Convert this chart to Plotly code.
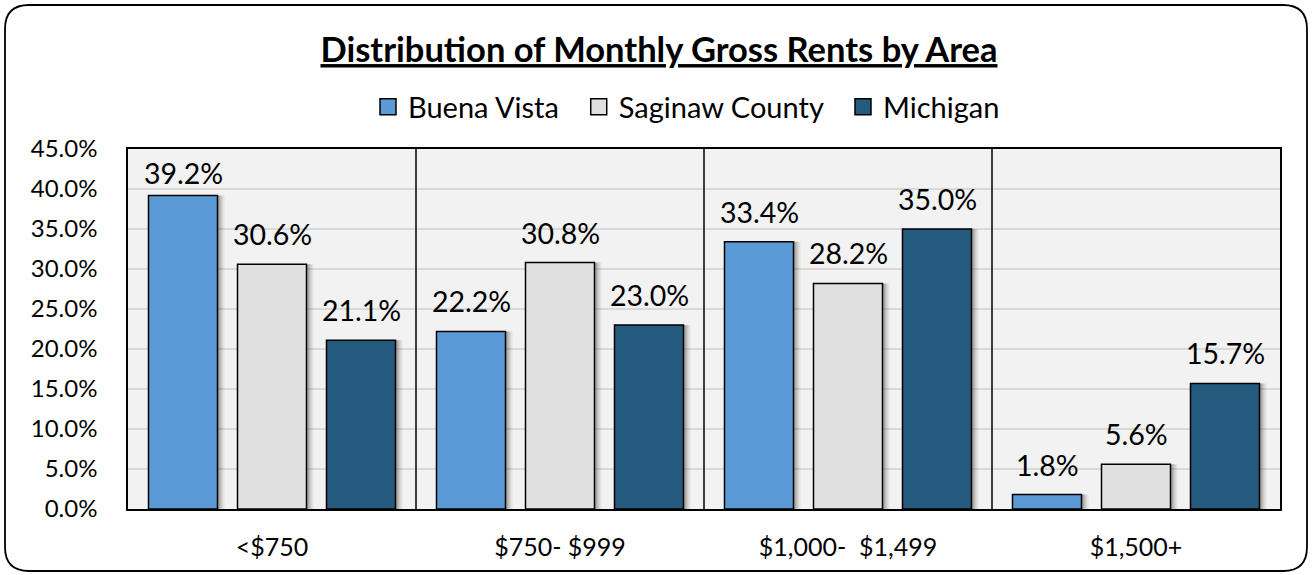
import plotly.graph_objects as go

categories = ["<$750", "$750- $999", "$1,000-  $1,499", "$1,500+"]
series_names = ["Buena Vista", "Saginaw County", "Michigan"]
buena_vista = [39.2, 22.2, 33.4, 1.8]
saginaw_county = [30.6, 30.8, 28.2, 5.6]
michigan = [21.1, 23.0, 35.0, 15.7]
y_ticks = [0, 5, 10, 15, 20, 25, 30, 35, 40, 45]

colors = ["#5B9BD5", "#E0E0E0", "#255A7F"]
values = [buena_vista, saginaw_county, michigan]

W, H = 1313, 575
L, R, T, B = 128, 1280, 149, 509
pw, ph = R - L, B - T
cat_px = pw / len(categories)
slot = 89 / cat_px
bw = 69 / cat_px
first = -0.5 + 20.5 / cat_px
font = "Lato, 'Open Sans', sans-serif"
ymax = 45

fig = go.Figure()
x_idx = list(range(len(categories)))

# soft shadows
for i, vals in enumerate(values):
    for dx, op in [(7, 0.06), (5, 0.10), (3, 0.16)]:
        fig.add_trace(go.Bar(
            x=x_idx, y=vals, offset=first + i * slot + dx / cat_px, width=bw,
            marker=dict(color=f"rgba(0,0,0,{op})", line=dict(width=0)),
            showlegend=False, hoverinfo="skip"))

annotations = []
for i, (name, vals) in enumerate(zip(series_names, values)):
    fig.add_trace(go.Bar(
        x=x_idx, y=vals, name=name, offset=first + i * slot, width=bw,
        marker=dict(color=colors[i], line=dict(color="#000000", width=1.5)),
        showlegend=False))
    for xi, v in zip(x_idx, vals):
        bar_top_px = B - v / ymax * ph
        shift = min(30, bar_top_px - (T + 24))
        annotations.append(dict(
            x=xi + first + i * slot + bw / 2, y=v, xref="x", yref="y",
            text=f"{v:.1f}%", showarrow=False, yanchor="middle",
            yshift=shift, font=dict(size=28.5, color="#000000", family=font)))

# legend entries
nb = "\u00a0\u00a0"
for i, name in enumerate(series_names):
    fig.add_trace(go.Scatter(
        x=[None], y=[None], mode="markers", name=name + nb,
        marker=dict(symbol="square", size=17, color=colors[i],
                    line=dict(color="#000000", width=1.5))))

def px(x):
    return (x - L) / pw

def py(y):
    return (B - y) / ph

x0, y0, x1, y1, r = 5, 5, 1307, 571, 24
path = (f"M {px(x0 + r)} {py(y0)} L {px(x1 - r)} {py(y0)} "
        f"Q {px(x1)} {py(y0)} {px(x1)} {py(y0 + r)} "
        f"L {px(x1)} {py(y1 - r)} Q {px(x1)} {py(y1)} {px(x1 - r)} {py(y1)} "
        f"L {px(x0 + r)} {py(y1)} Q {px(x0)} {py(y1)} {px(x0)} {py(y1 - r)} "
        f"L {px(x0)} {py(y0 + r)} Q {px(x0)} {py(y0)} {px(x0 + r)} {py(y0)} Z")

fig.update_layout(
    width=W, height=H,
    margin=dict(l=L, r=W - R, t=T, b=H - B, autoexpand=False),
    paper_bgcolor="#FFFFFF", plot_bgcolor="#F2F2F2",
    barmode="overlay",
    font=dict(family=font, color="#000000"),
    title=dict(text="<u><b>Distribution of Monthly Gross Rents by Area</b></u>",
               x=659 / W, xref="container", xanchor="center",
               y=1 - 50 / H, yref="container", yanchor="middle",
               font=dict(size=34.5, color="#000000", family=font)),
    legend=dict(orientation="h", x=(694 - L) / pw, xanchor="center",
                y=py(107), yanchor="middle", font=dict(size=29, color="#000000"),
                traceorder="normal", itemwidth=30, bgcolor="rgba(0,0,0,0)",
                itemsizing="trace"),
    xaxis=dict(tickmode="array", tickvals=x_idx, ticktext=categories,
               range=[-0.5, len(categories) - 0.5],
               showgrid=False, showline=True, linecolor="#000000", linewidth=1.5,
               mirror=True, ticks="", tickfont=dict(size=25, color="#000000"),
               ticklabelstandoff=15, zeroline=False),
    yaxis=dict(range=[0, ymax], tickmode="array", tickvals=y_ticks,
               ticktext=[f"{v:.1f}%" for v in y_ticks],
               showgrid=True, gridcolor="#D9D9D9", gridwidth=1.5,
               showline=True, linecolor="#000000", linewidth=1.5, mirror=True,
               ticks="", tickfont=dict(size=24, color="#000000"),
               ticklabelstandoff=24, zeroline=False),
    annotations=annotations,
    shapes=[dict(type="path", xref="paper", yref="paper", path=path,
                 line=dict(color="#000000", width=1.8), layer="below")] +
           [dict(type="line", xref="x", yref="paper", x0=k + 0.5, x1=k + 0.5,
                 y0=0, y1=1, line=dict(color="#000000", width=1.5))
            for k in range(len(categories) - 1)],
)

fig.write_html("out.html", config={"displayModeBar": False},
               post_script="document.body.style.margin='0';")
